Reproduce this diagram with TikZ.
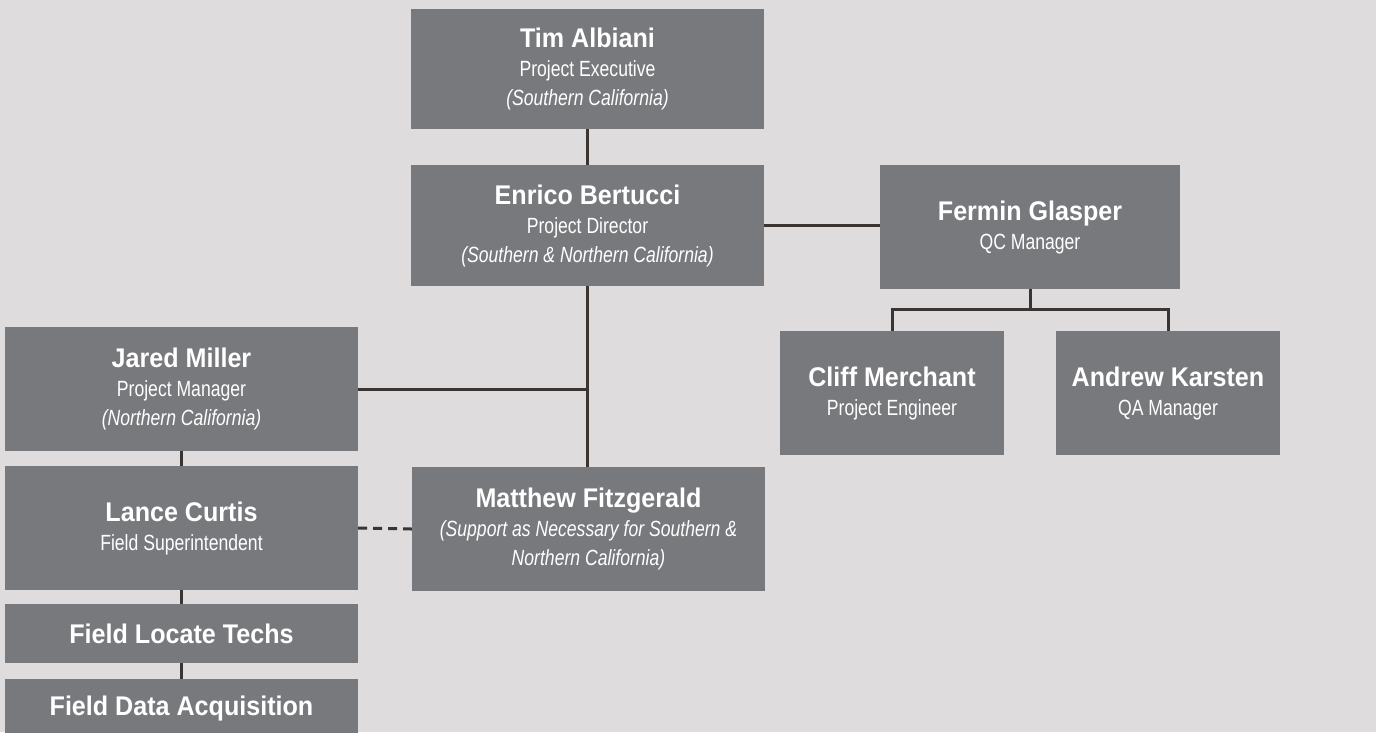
\documentclass[tikz,border=0pt]{standalone}
\usepackage{fontspec}
\setmainfont{Liberation Sans}
\newfontfamily\rolefont[FakeStretch=0.8]{Liberation Sans}
\newfontfamily\namefont[FakeStretch=0.93]{Liberation Sans}
\newcommand{\who}[1]{{\namefont\bfseries\fontsize{27}{29}\selectfont #1}}
\definecolor{pagegray}{HTML}{DEDCDC}
\definecolor{boxgray}{HTML}{78797C}
\definecolor{linegray}{HTML}{3B3431}

\begin{document}
\begin{tikzpicture}[x=1pt,y=-1pt,
  box/.style={fill=boxgray,text=white,align=center,inner sep=0pt,
    font=\rolefont\fontsize{22}{29}\selectfont},
  wide/.style={box,minimum width=353pt,minimum height=124pt},
  small/.style={box,minimum width=224pt,minimum height=124pt},
  link/.style={draw=linegray,line width=3pt}]
%\draw[step=50,gray,very thin] (0,0) grid (1376,732); %background grid
\useasboundingbox (0,0) rectangle (1376,732);
\fill[pagegray] (0,0) rectangle (1376,732);

% top of the chart
\node[wide,minimum height=120pt] (tim) at (587.5,69) {\who{Tim Albiani}\\Project Executive\\\textit{(Southern California)}};
\node[wide,minimum height=121pt] (enrico) at (587.5,225.5) {\who{Enrico Bertucci}\\Project Director\\\textit{(Southern \& Northern California)}};
\node[box,minimum width=300pt,minimum height=124pt] (fermin) at (1030,227) {\who{Fermin Glasper}\\QC Manager};
\node[small] (cliff) at (892,393) {\who{Cliff Merchant}\\Project Engineer};
\node[small] (andrew) at (1168,393) {\who{Andrew Karsten}\\QA Manager};

% left column
\node[wide] (jared) at (181.5,389) {\who{Jared Miller}\\Project Manager\\\textit{(Northern California)}};
\node[wide] (lance) at (181.5,528) {\who{Lance Curtis}\\Field Superintendent};
\node[wide,minimum height=59pt] (techs) at (181.5,633.5) {\who{Field Locate Techs}};
\node[wide,minimum height=59pt] (acq) at (181.5,708.5) {\who{Field Data Acquisition}};
\node[wide] (matthew) at (588.5,529) {\who{Matthew Fitzgerald}\\\textit{(Support as Necessary for Southern \&}\\\textit{Northern California)}};

\coordinate (qcbus) at ([yshift=-20pt]fermin.south);

\draw[link] (tim) -- (enrico);
\draw[link] (enrico.south) -- (enrico.south |- matthew.north);
\draw[link] (enrico.east) -- (enrico.east -| fermin.west);
\draw[link] (jared.east) -- (jared.east -| enrico.south);
\draw[link] (fermin.south) -- (qcbus);
\draw[link] (cliff.north) |- (qcbus) -| (andrew.north);
\draw[link] (jared) -- (lance);
\draw[link] (lance) -- (techs);
\draw[link] (techs) -- (acq);
\draw[link,dash pattern=on 9pt off 6pt] (lance.east) -- (matthew.west);
\end{tikzpicture}
\end{document}
